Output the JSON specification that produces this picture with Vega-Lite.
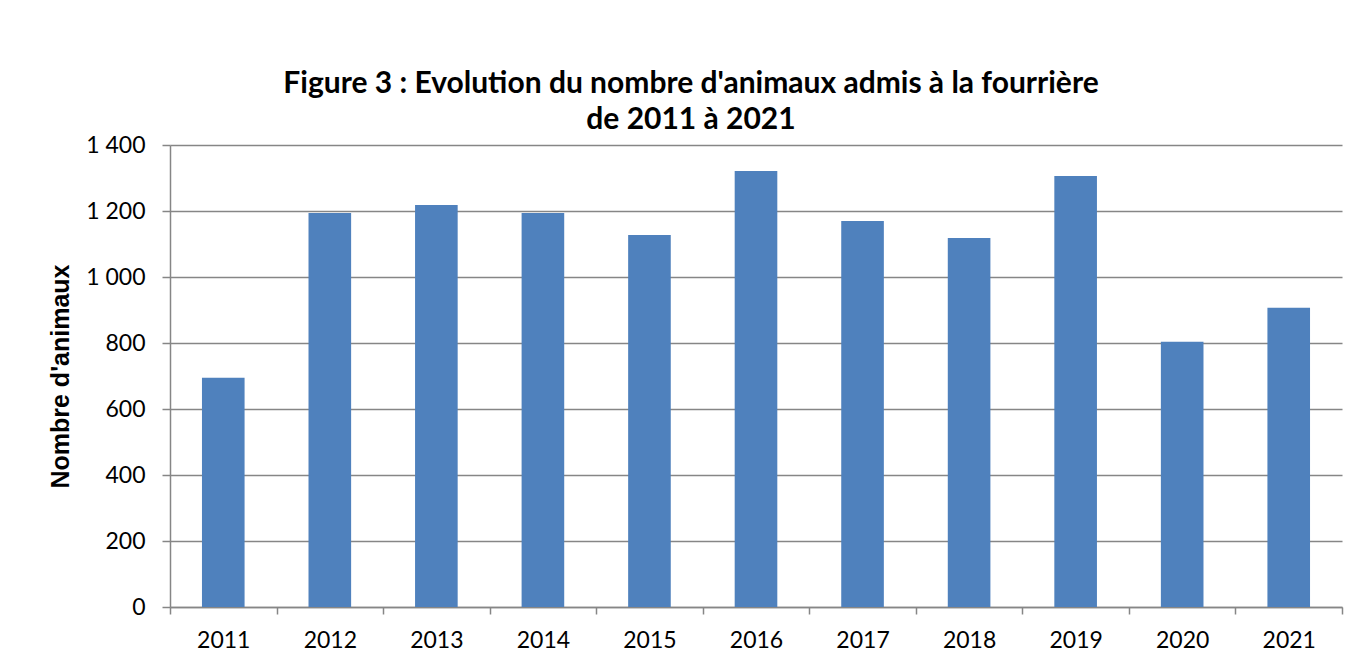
{
  "$schema": "https://vega.github.io/schema/vega-lite/v6.json",
  "width": 1172,
  "height": 462,
  "autosize": {"type": "none"},
  "padding": {"left": 170, "top": 145, "right": 19, "bottom": 61},
  "background": "white",
  "config": {
    "locale": {"number": {"decimal": ",", "thousands": " ", "grouping": [3], "currency": ["", " €"]}},
    "view": {"stroke": null},
    "font": "Lato"
  },
  "title": {
    "text": ["Figure 3 : Evolution du nombre d'animaux admis à la fourrière", "de 2011 à 2021"],
    "font": "Lato",
    "fontSize": 30,
    "fontWeight": "bold",
    "color": "#000000",
    "anchor": "middle",
    "dx": -65,
    "lineHeight": 36,
    "offset": -1
  },
  "data": {
    "values": [
      {"annee": "2011", "animaux": 695},
      {"annee": "2012", "animaux": 1194},
      {"annee": "2013", "animaux": 1218},
      {"annee": "2014", "animaux": 1194},
      {"annee": "2015", "animaux": 1127},
      {"annee": "2016", "animaux": 1321},
      {"annee": "2017", "animaux": 1170},
      {"annee": "2018", "animaux": 1118},
      {"annee": "2019", "animaux": 1306},
      {"annee": "2020", "animaux": 804},
      {"annee": "2021", "animaux": 907}
    ]
  },
  "mark": {"type": "bar", "color": "#4F81BD", "width": {"band": 0.4}},
  "encoding": {
    "x": {
      "field": "annee",
      "type": "nominal",
      "scale": {"paddingInner": 0, "paddingOuter": 0},
      "axis": {
        "title": null,
        "labelAngle": 0,
        "labelFont": "Lato",
        "labelFontSize": 23,
        "labelColor": "#000000",
        "labelPadding": 15,
        "tickBand": "extent",
        "tickSize": 7,
        "tickColor": "#868686",
        "tickWidth": 1.5,
        "domainColor": "#868686",
        "domainWidth": 1.5,
        "grid": false
      }
    },
    "y": {
      "field": "animaux",
      "type": "quantitative",
      "scale": {"domain": [0, 1400], "nice": false},
      "axis": {
        "title": "Nombre d'animaux",
        "titleFont": "Liberation Sans",
        "titleFontSize": 25,
        "titleFontWeight": "bold",
        "titleColor": "#000000",
        "titlePadding": 12,
        "values": [0, 200, 400, 600, 800, 1000, 1200, 1400],
        "format": ",d",
        "labelFont": "Lato",
        "labelFontSize": 23,
        "labelColor": "#000000",
        "labelPadding": 17,
        "tickSize": 8,
        "tickColor": "#868686",
        "tickWidth": 1.5,
        "domainColor": "#868686",
        "domainWidth": 1.5,
        "grid": true,
        "gridColor": "#868686",
        "gridWidth": 1.5
      }
    }
  }
}
